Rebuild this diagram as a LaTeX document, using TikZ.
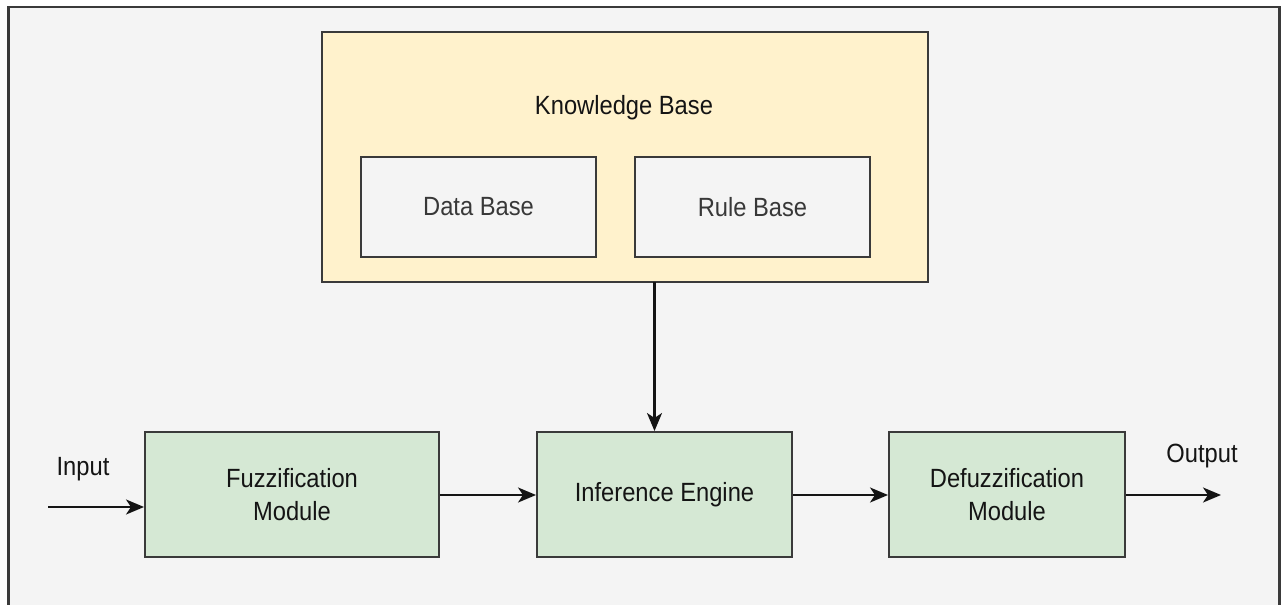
\documentclass[tikz,border=0pt]{standalone}
\usepackage{fontspec}
\setmainfont{Liberation Sans}[FakeStretch=0.9]
\usetikzlibrary{arrows.meta}
\definecolor{bgc}{HTML}{F4F4F4}
\definecolor{kbfill}{HTML}{FFF2CC}
\definecolor{gfill}{HTML}{D5E8D4}
\definecolor{edge}{HTML}{3A3A3A}
\begin{document}
\begin{tikzpicture}[x=0.02cm,y=-0.02cm,
  box/.style={draw=edge,line width=1.5pt*0.75,rectangle,inner sep=0pt,align=center,font=\fontsize{15}{19}\selectfont},
  kb/.style={box,fill=kbfill,minimum width=606*0.02cm,minimum height=250*0.02cm},
  sub/.style={box,fill=bgc,text=black!78,minimum width=235*0.02cm,minimum height=100*0.02cm},
  mod/.style={box,fill=gfill,text=black!92,minimum height=125*0.02cm},
  lbl/.style={font=\fontsize{15}{19}\selectfont,text=black!92,inner sep=0pt},
  conn/.style={draw=black!92,line width=1.8pt*0.75,-{Stealth[length=0.36cm,width=0.3cm,inset=0.1cm]}}]
\useasboundingbox (0,0) rectangle (1281,605);
\fill[white] (0,0) rectangle (1281,605);
\fill[bgc] (8.5,7) rectangle (1279.5,615);
\draw[draw=edge,line width=2pt*0.75] (8.5,615) -- (8.5,7) -- (1279.5,7) -- (1279.5,615);
% knowledge base
\node[kb] (kb) at (625,157) {};
\node[lbl] (kbt) at (624,108) {Knowledge Base};
\node[sub] (db) at (478.5,207) {Data Base};
\node[sub] (rb) at (752.5,207) {Rule Base};
% modules
\node[mod,minimum width=294*0.02cm] (fz) at (292,494.5) {Fuzzification\\Module};
\node[mod,minimum width=255*0.02cm] (ie) at (664.5,494.5) {Inference Engine};
\node[mod,minimum width=236*0.02cm] (dz) at (1007,494.5) {Defuzzification\\Module};
% labels
\node[lbl] (inl) at (83,469) {Input};
\node[lbl] (outl) at (1202,456) {Output};
\coordinate (inS) at (48,507);
\coordinate (inE) at (fz.west |- inS);
\coordinate (outE) at (1221,495);
\coordinate (kbB) at (654.5,282);
% connectors
\draw[conn] (inS) -- (inE);
\draw[conn] (fz.east |- 0,495) -- (ie.west |- 0,495);
\draw[conn] (ie.east |- 0,495) -- (dz.west |- 0,495);
\draw[conn] (dz.east |- outE) -- (outE);
\draw[conn] (kbB) -- (kbB |- ie.north);
\end{tikzpicture}
\end{document}
